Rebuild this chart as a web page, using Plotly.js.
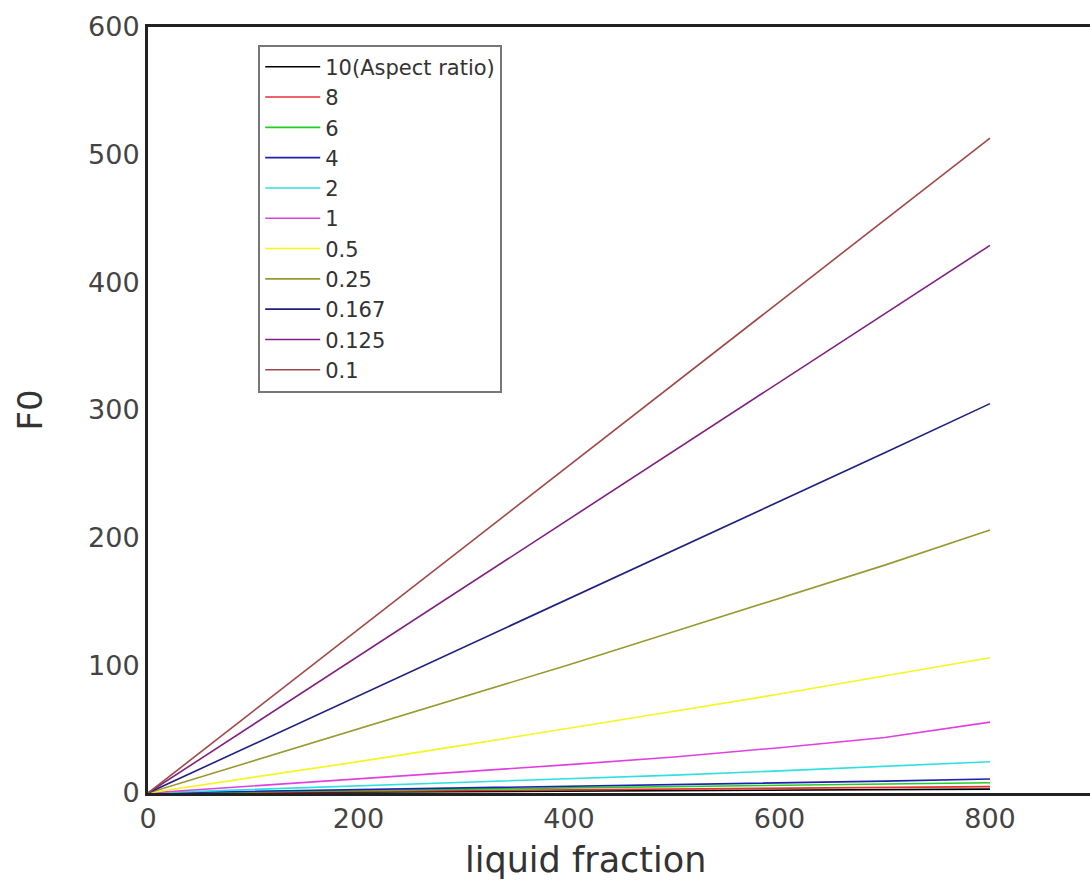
<!DOCTYPE html>
<html>
<head>
<meta charset="utf-8">
<script src="https://cdn.plot.ly/plotly-3.0.1.min.js"></script>
<style>html,body{margin:0;padding:0;background:#fff;}#chart{width:1090px;height:887px;}</style>
</head>
<body>
<div id="chart"></div>
<script>
const xVals = [0, 100, 200, 300, 400, 500, 600, 700, 800];

const seriesNames = ["10(Aspect ratio)", "8", "6", "4", "2", "1", "0.5", "0.25", "0.167", "0.125", "0.1"];
const seriesColors = ["#000000", "#e83030", "#20d020", "#2020b0", "#30e0e0", "#e040e0", "#f5f520", "#999933", "#202080", "#802080", "#a04848"];

const ar10   = [0, 0.4, 0.8, 1.1, 1.5, 1.9, 2.2, 2.6, 3.0];
const ar8    = [0, 0.6, 1.2, 1.8, 2.5, 3.1, 3.7, 4.3, 5.0];
const ar6    = [0, 1.0, 2.0, 3.0, 4.0, 5.0, 6.0, 7.0, 8.0];
const ar4    = [0, 1.3, 2.6, 3.9, 5.2, 6.5, 7.8, 9.3, 11.0];
const ar2    = [0, 2.7, 5.4, 8.1, 11.0, 14.0, 17.3, 20.8, 24.5];
const ar1    = [0, 5.5, 11.0, 16.5, 22.2, 28.2, 35.5, 43.5, 55.5];
const ar05   = [0, 12.3, 24.6, 37.5, 50.5, 64.0, 77.5, 91.5, 106.0];
const ar025  = [0, 25.0, 50.0, 75.0, 100.5, 126.5, 152.5, 178.5, 206.0];
const ar0167 = [0, 38.0, 76.0, 114.0, 152.0, 190.5, 228.5, 266.5, 305.0];
const ar0125 = [0, 53.6, 107.2, 160.8, 214.4, 268.0, 321.6, 375.3, 429.0];
const ar01   = [0, 64.2, 128.4, 192.6, 256.8, 321.0, 385.0, 449.0, 513.0];

const seriesValues = [ar10, ar8, ar6, ar4, ar2, ar1, ar05, ar025, ar0167, ar0125, ar01];

const xTitle = 'liquid fraction';
const yTitle = 'F0';

const traces = seriesNames.map((name, i) => ({
  x: xVals,
  y: seriesValues[i],
  name: name,
  type: 'scatter',
  mode: 'lines',
  line: {color: seriesColors[i], width: 1.6}
}));

const layout = {
  width: 1090,
  height: 887,
  margin: {l: 148, r: 0, t: 27, b: 94},
  paper_bgcolor: '#ffffff',
  plot_bgcolor: '#ffffff',
  font: {family: 'DejaVu Sans, Arial, sans-serif', color: '#444444'},
  showlegend: true,
  legend: {
    x: 0.117, y: 0.977, xanchor: 'left', yanchor: 'top',
    bgcolor: '#ffffff', bordercolor: '#777777', borderwidth: 2,
    font: {size: 21, color: '#333333', family: 'DejaVu Sans, Arial, sans-serif'},
    itemwidth: 55
  },
  xaxis: {
    range: [0, 895],
    tickvals: [0, 200, 400, 600, 800],
    ticktext: ['0', '200', '400', '600', '800'],
    ticks: '',
    showgrid: false,
    zeroline: false,
    showline: true,
    linecolor: '#222222',
    linewidth: 3,
    mirror: true,
    tickfont: {size: 27, color: '#444444'}
  },
  yaxis: {
    range: [0, 600],
    tickvals: [0, 100, 200, 300, 400, 500, 600],
    ticktext: ['0', '100', '200', '300', '400', '500', '600'],
    ticks: '',
    showgrid: false,
    zeroline: false,
    showline: true,
    linecolor: '#222222',
    linewidth: 3,
    mirror: false,
    ticklabelstandoff: 0,
    tickfont: {size: 27, color: '#444444'},
    title: {text: yTitle, font: {size: 34, color: '#333333'}, standoff: 36}
  },
  annotations: [{
    text: xTitle,
    xref: 'paper', yref: 'paper',
    x: 0.464, y: -0.087,
    xanchor: 'center', yanchor: 'middle',
    showarrow: false,
    font: {size: 35, color: '#333333', family: 'DejaVu Sans, Arial, sans-serif'}
  }]
};

Plotly.newPlot('chart', traces, layout, {displayModeBar: false, staticPlot: true});
</script>
</body>
</html>
